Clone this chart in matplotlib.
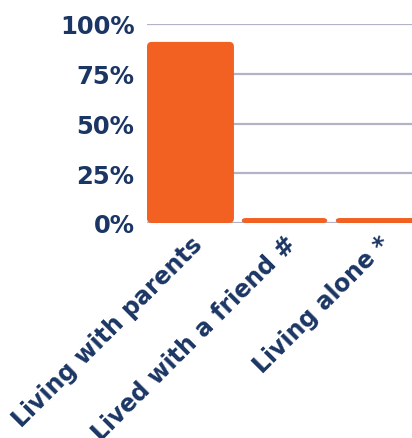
import numpy as np
import matplotlib.pyplot as plt
from matplotlib.patches import FancyBboxPatch

# datos
categories = ['Living with parents', 'Lived with a friend #', 'Living alone *']
values = [91, 2.5, 2.5]  # %

ORANGE = '#F26122'
NAVY = '#1B3664'
GRID = '#B3B2C6'

plt.rcParams['font.family'] = ['DejaVu Sans']

fig = plt.figure(figsize=(4.12, 4.39), dpi=100)
# el eje sigue más allá del borde derecho, la tercera barra queda cortada
ax = fig.add_axes([147/412, 215/439, 282/412, 199/439])

x = np.arange(len(categories))
bars = ax.bar(x, values, width=0.925, color=ORANGE, zorder=3)

# esquinas redondeadas
for b in bars:
    b.set_visible(False)
    p = FancyBboxPatch((b.get_x(), b.get_y()), b.get_width(), b.get_height(),
                       boxstyle='round,pad=0,rounding_size=0.05',
                       mutation_aspect=47, fc=ORANGE, ec='none', zorder=3)
    ax.add_patch(p)

ax.set_xlim(-0.4625, 2.5375)
ax.set_ylim(0, 100)
ax.set_yticks([0, 25, 50, 75, 100])
ax.set_yticklabels(['0%', '25%', '50%', '75%', '100%'])
ax.set_xticks(x)
ax.set_xticklabels(categories, rotation=45, ha='right', rotation_mode='anchor')

ax.grid(axis='y', color=GRID, linewidth=1.6, zorder=0)
ax.set_axisbelow(True)
for s in ax.spines.values():
    s.set_visible(False)
ax.tick_params(axis='y', length=0, labelsize=17.5, pad=9)
ax.tick_params(axis='x', length=0, labelsize=17, pad=6)
for t in ax.get_xticklabels() + ax.get_yticklabels():
    t.set_fontweight('bold')
    t.set_color(NAVY)

fig.savefig('out.png', dpi=100)
